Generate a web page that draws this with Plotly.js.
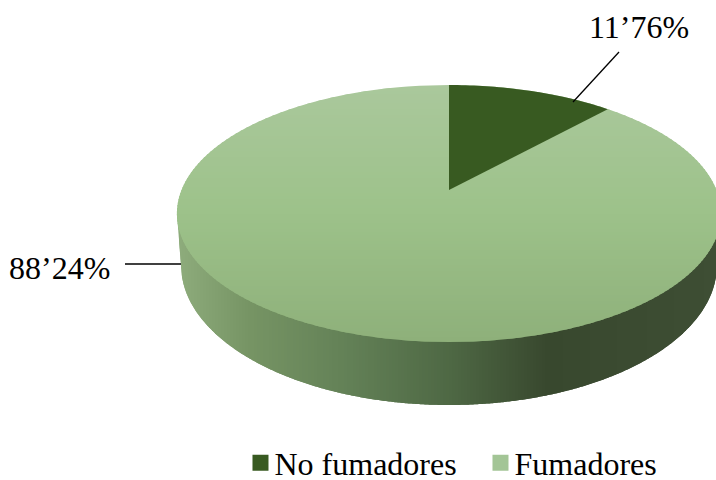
<!DOCTYPE html>
<html><head><meta charset="utf-8">
<script src="https://cdn.plot.ly/plotly-3.0.1.min.js"></script>
<style>html,body{margin:0;padding:0;background:#fff}#c{width:716px;height:480px}</style>
</head><body><div id="c"></div>
<script>
// Data
const categories = ["No fumadores", "Fumadores"];
const values = [11.76, 88.24];
const swatchColors = ["#385a21", "#a3c596"];

// View of the tilted disc (perspective projection of a cylinder)
const topDisc = {cx: 449, y0: 190, a: 267.5, b: 124.2, k: 0.183};
const botDisc = {cx: 449, rx: 268, yc: 265, ry: 140};
const FONT = "Liberation Serif, Times New Roman, serif";
const topStops = [[85, [170,200,156]], [210, [157,194,138]], [342, [142,176,122]]];
const wallStops = [[177,[142,172,124]],[250,[118,148,100]],[350,[98,128,86]],[450,[78,104,68]],[548,[56,72,46]],[717,[62,78,52]]];

function proj(d, t) {
  const u = Math.sin(t), v = Math.cos(t), w = 1 + d.k * v;
  return [d.cx + d.a * u / w, d.y0 - d.b * v / w];
}
function mix(stops, p) {
  let i = 0;
  while (i < stops.length - 2 && p > stops[i + 1][0]) i++;
  const [p0, c0] = stops[i], [p1, c1] = stops[i + 1];
  const f = Math.max(0, Math.min(1, (p - p0) / (p1 - p0)));
  return "rgb(" + c0.map((c, j) => Math.round(c + (c1[j] - c) * f)).join(",") + ")";
}
function poly(pts, color) {
  return {x: pts.map(p => p[0]), y: pts.map(p => p[1]), type: "scatter", mode: "none",
    fill: "toself", fillcolor: color, line: {color: color, width: 0}, hoverinfo: "skip", showlegend: false};
}
const traces = [];

const T = topDisc, rx = T.a / Math.sqrt(1 - T.k * T.k), ry = T.b / (1 - T.k * T.k);
const yTop = T.y0 - T.b / (1 + T.k), yBot = T.y0 + T.b / (1 - T.k), yc = (yTop + yBot) / 2;
const half = y => rx * Math.sqrt(Math.max(0, 1 - Math.pow((y - yc) / ry, 2)));

// wall: overlapping vertical columns following the lower rim, painted left to right
const B = botDisc, leftTop = T.cx - rx, rightTop = T.cx + rx;
function wallBottom(x) {
  const d = Math.abs(x - B.cx), e = d / B.rx;
  if (e < 1) return B.yc + B.ry * Math.sqrt(1 - e * e);
  const edge = T.cx + rx - B.cx;
  return B.yc + (yc - B.yc) * (d - B.rx) / (edge - B.rx);
}
const colW = 3;
for (let x = Math.floor(leftTop); x < 718; x += colW) {
  const x0 = Math.max(x, leftTop), x1 = Math.min(x + colW + 3, rightTop);
  if (x1 <= x0) continue;
  const pts = [[x0, yc], [x1, yc]];
  for (let j = 4; j >= 0; j--) { const xx = x0 + (x1 - x0) * j / 4; pts.push([xx, wallBottom(xx)]); }
  traces.push(poly(pts, mix(wallStops, x + colW / 2)));
}

// top disc, banded vertically for the soft shading
const bandH = 3;
for (let y = yTop; y < yBot; y += bandH) {
  const L = [], R = [];
  for (let j = 0; j <= 6; j++) {
    const yy = Math.min(yBot, y + (bandH + 1.5) * j / 6), h = half(yy);
    L.push([T.cx - h, yy]); R.unshift([T.cx + h, yy]);
  }
  traces.push(poly(L.concat(R), mix(topStops, y + bandH / 2)));
}

// first slice, from the values
const total = values.reduce((p, q) => p + q, 0);
const wedge = [[T.cx, T.y0]];
const end = 2 * Math.PI * values[0] / total;
for (let j = 0; j <= 40; j++) wedge.push(proj(T, end * j / 40));
traces.push(poly(wedge, swatchColors[0]));

// leader lines
traces.push({x: [573, 619], y: [102, 52], type: "scatter", mode: "lines", line: {color: "#000", width: 1.3}, hoverinfo: "skip", showlegend: false});
traces.push({x: [125, 181], y: [264, 264], type: "scatter", mode: "lines", line: {color: "#000", width: 1.3}, hoverinfo: "skip", showlegend: false});

// legend entries
categories.forEach((name, i) => traces.push({x: [-50], y: [-50], type: "scatter", mode: "markers", name,
  marker: {symbol: "square", size: 17, color: swatchColors[i]}, hoverinfo: "skip"}));

const fmt = v => String(v).replace(".", "’") + "%";
const layout = {
  width: 716, height: 480, margin: {l: 0, r: 0, t: 0, b: 0, autoexpand: false}, paper_bgcolor: "#fff", plot_bgcolor: "#fff",
  xaxis: {range: [0, 716], visible: false, fixedrange: true},
  yaxis: {range: [480, 0], visible: false, fixedrange: true},
  showlegend: true,
  legend: {orientation: "h", x: 0.3275, y: -0.022, xanchor: "left", yanchor: "bottom", itemwidth: 30, entrywidth: 195, entrywidthmode: "pixels", font: {family: FONT, size: 32, color: "#000"}, traceorder: "normal", bgcolor: "rgba(0,0,0,0)"},
  annotations: [
    {x: 638.5, y: 27, text: fmt(values[0]), showarrow: false, font: {family: FONT, size: 32, color: "#000"}},
    {x: 59.5, y: 268, text: fmt(values[1]), showarrow: false, font: {family: FONT, size: 32, color: "#000"}}
  ]
};
Plotly.newPlot("c", traces, layout, {displayModeBar: false, staticPlot: true}).then(() => {
  // move the legend swatches closer to their text
  document.querySelectorAll(".legendsymbols").forEach(g => g.setAttribute("transform", "translate(6,0)"));
});
</script></body></html>
